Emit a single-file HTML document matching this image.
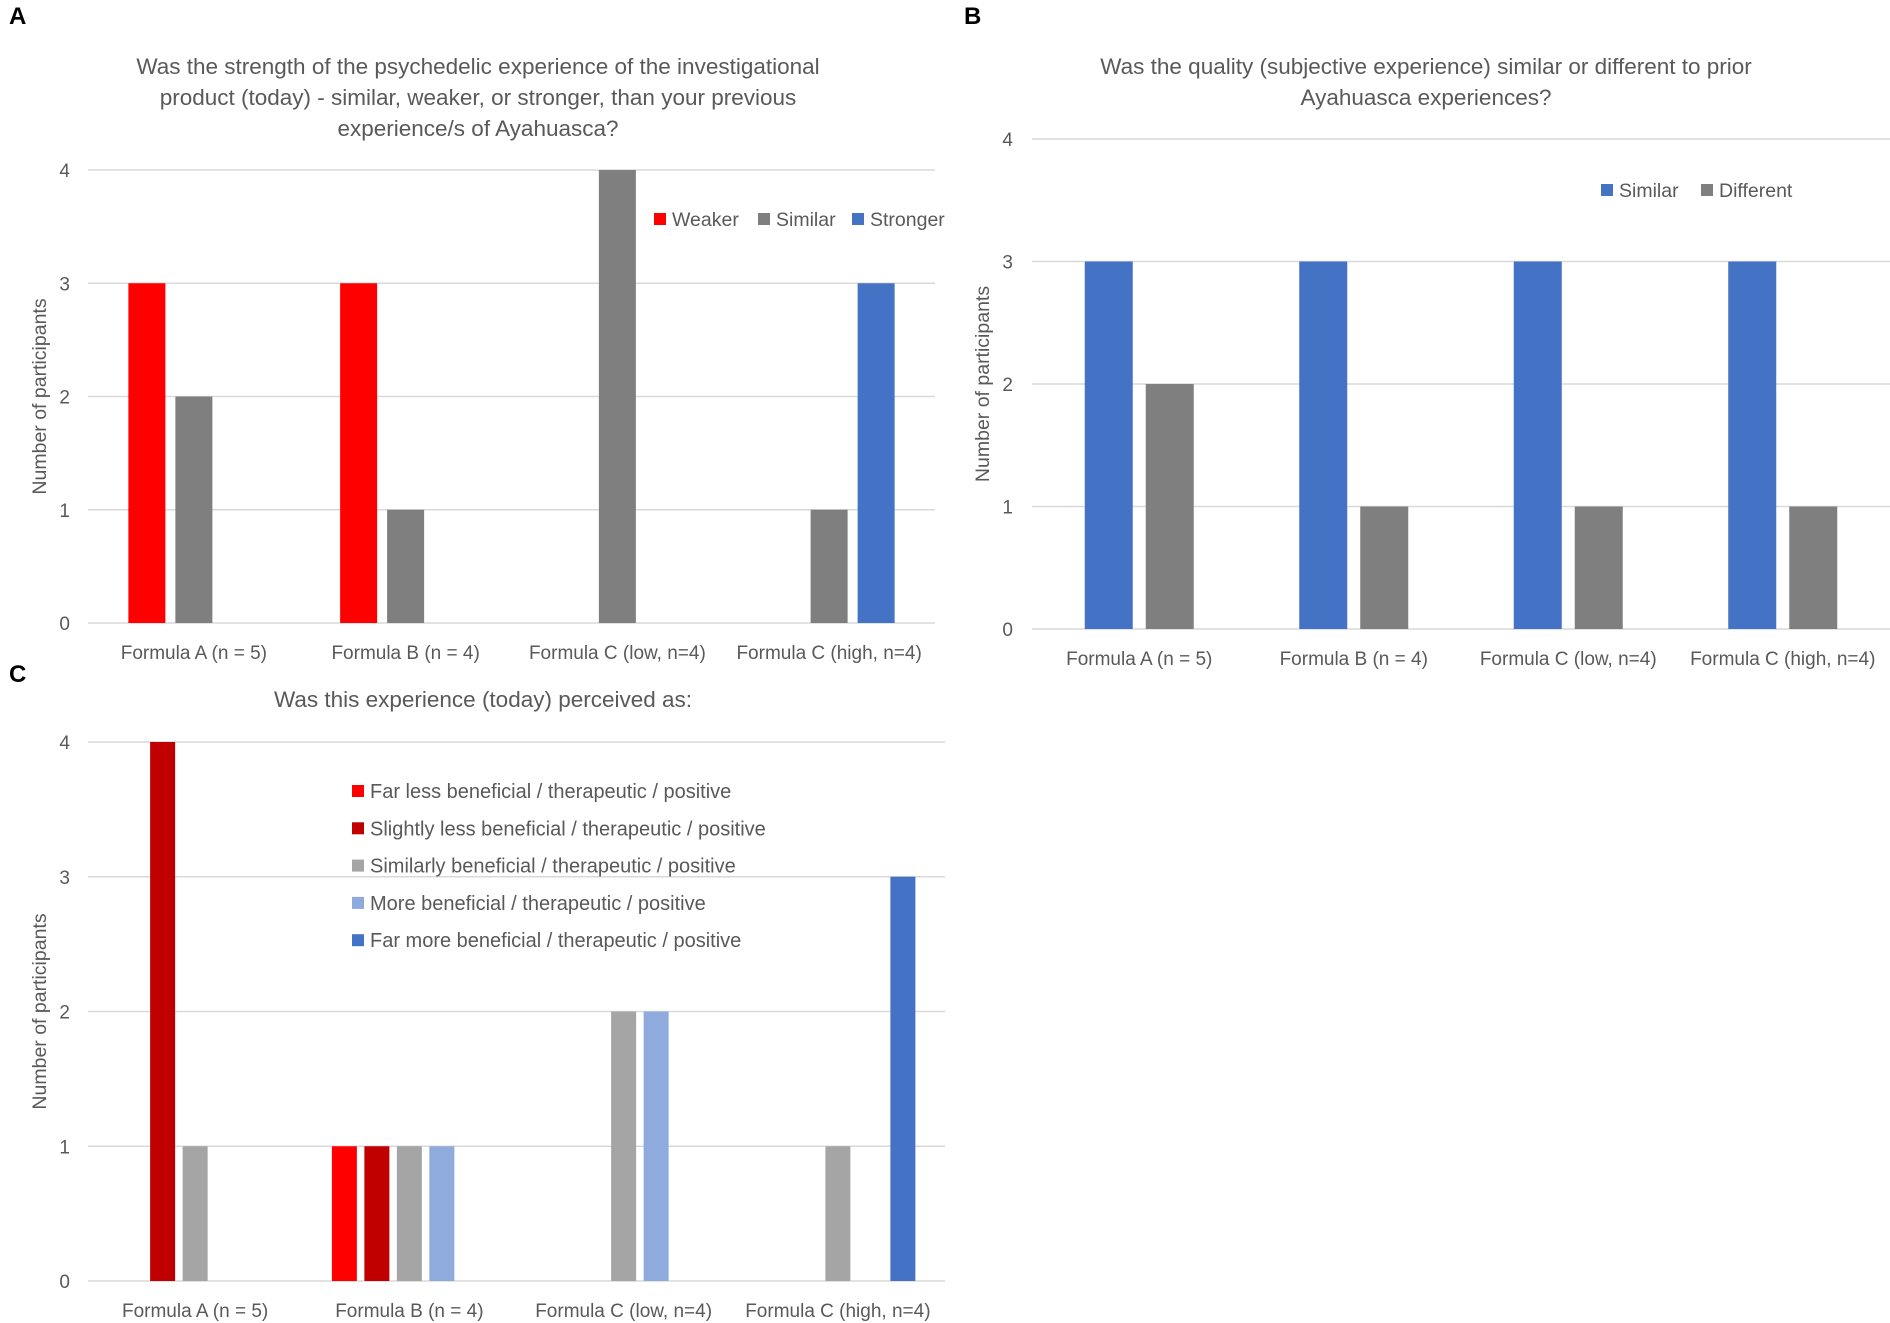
<!DOCTYPE html>
<html><head><meta charset="utf-8"><style>
body{margin:0;background:#fff;}
svg{display:block;font-family:"Liberation Sans",sans-serif;}
</style></head><body>
<svg id="s" width="1890" height="1323" viewBox="0 0 1890 1323">
<text x="9" y="24" font-size="24" font-weight="bold" fill="#000">A</text>
<text x="964" y="24" font-size="24" font-weight="bold" fill="#000">B</text>
<text x="9" y="682" font-size="24" font-weight="bold" fill="#000">C</text>
<g fill="#595959" font-size="22.5" text-anchor="middle">
<text x="478" y="74">Was the strength of the psychedelic experience of the investigational</text>
<text x="478" y="105">product (today) - similar, weaker, or stronger, than your previous</text>
<text x="478" y="136">experience/s of Ayahuasca?</text>
<text x="1426" y="74">Was the quality (subjective experience) similar or different to prior</text>
<text x="1426" y="105">Ayahuasca experiences?</text>
<text x="483" y="707">Was this experience (today) perceived as:</text>
</g>
</svg>
<script>
const categories=["Formula A (n = 5)","Formula B (n = 4)","Formula C (low, n=4)","Formula C (high, n=4)"];
const yTicks=[0,1,2,3,4];
const aSeriesNames=["Weaker","Similar","Stronger"];
const aWeaker=[3,3,0,0];
const aSimilar=[2,1,4,1];
const aStronger=[0,0,0,3];
const bSeriesNames=["Similar","Different"];
const bSimilar=[3,3,3,3];
const bDifferent=[2,1,1,1];
const cSeriesNames=["Far less beneficial / therapeutic / positive","Slightly less beneficial / therapeutic / positive","Similarly beneficial / therapeutic / positive","More beneficial / therapeutic / positive","Far more beneficial / therapeutic / positive"];
const cFarLess=[0,1,0,0];
const cSlightlyLess=[4,1,0,0];
const cSimilarly=[1,1,2,1];
const cMore=[0,1,2,0];
const cFarMore=[0,0,0,3];

const svg=document.getElementById('s');
const NS="http://www.w3.org/2000/svg";
function mk(tag,attrs,text){const e=document.createElementNS(NS,tag);for(const k in attrs)e.setAttribute(k,attrs[k]);if(text!==undefined)e.textContent=text;svg.appendChild(e);return e;}

function chart(id,cfg){
  const {x0,x1,yTop,yBot,series,colors,barW,step,catY,tickX,titleX}=cfg;
  const ymax=4;
  const yScale=v=>yBot-(v/ymax)*(yBot-yTop);
  const catW=(x1-x0)/categories.length;
  const xCenter=i=>x0+catW*(i+0.5);
  yTicks.forEach(t=>{
    const l=mk('line',{x1:x0,x2:x1,y1:yScale(t),y2:yScale(t),stroke:'#d9d9d9','stroke-width':1.5});
    
    
    const tx=mk('text',{x:tickX,y:yScale(t)+7,'font-size':19,fill:'#595959','text-anchor':'end'},String(t));
    
    
  });
  const yt=mk('text',{x:0,y:0,'font-size':19.5,fill:'#595959','text-anchor':'middle',transform:`translate(${titleX},${(yTop+yBot)/2}) rotate(-90)`},'Number of participants');
  
  
  categories.forEach((c,i)=>{
    const t=mk('text',{x:xCenter(i),y:catY,'font-size':19,fill:'#595959','text-anchor':'middle'},c);
    
    
  });
  const n=series.length;
  series.forEach((vals,s)=>{
    vals.forEach((v,i)=>{
      if(v<=0)return;
      const cx=xCenter(i)+(s-(n-1)/2)*step;
      const r=mk('rect',{x:cx-barW/2,y:yScale(v),width:barW,height:yScale(0)-yScale(v),fill:colors[s]});
      
      
    });
  });
}
function legendItem(id,x,y,color,label,fs){
  const r=mk('rect',{x:x,y:y-6,width:12,height:12,fill:color});
  
  
  const t=mk('text',{x:x+18,y:y+7,'font-size':fs,fill:'#595959'},label);
  
  
}

const aColors=['#ff0000','#7f7f7f','#4472c4'];
chart('chart-a',{x0:88,x1:935,yTop:170,yBot:623,series:[aWeaker,aSimilar,aStronger],colors:aColors,barW:37,step:47,catY:659,tickX:70,titleX:46});
const aLegX=[654,758,852];
aSeriesNames.forEach((nm,i)=>legendItem('chart-a-legend-'+i,aLegX[i],219,aColors[i],nm,19.5));

const bColors=['#4472c4','#7f7f7f'];
chart('chart-b',{x0:1032,x1:1890,yTop:139,yBot:629,series:[bSimilar,bDifferent],colors:bColors,barW:48,step:61,catY:665,tickX:1013,titleX:989});
const bLegX=[1601,1701];
bSeriesNames.forEach((nm,i)=>legendItem('chart-b-legend-'+i,bLegX[i],190,bColors[i],nm,19.5));

const cColors=['#ff0000','#c00000','#a5a5a5','#8faadc','#4472c4'];
chart('chart-c',{x0:88,x1:945,yTop:742,yBot:1281,series:[cFarLess,cSlightlyLess,cSimilarly,cMore,cFarMore],colors:cColors,barW:25,step:32.5,catY:1317,tickX:70,titleX:46});
cSeriesNames.forEach((nm,i)=>legendItem('chart-c-legend-'+i,352,791+i*37.3,cColors[i],nm,20));
</script>
</body></html>
